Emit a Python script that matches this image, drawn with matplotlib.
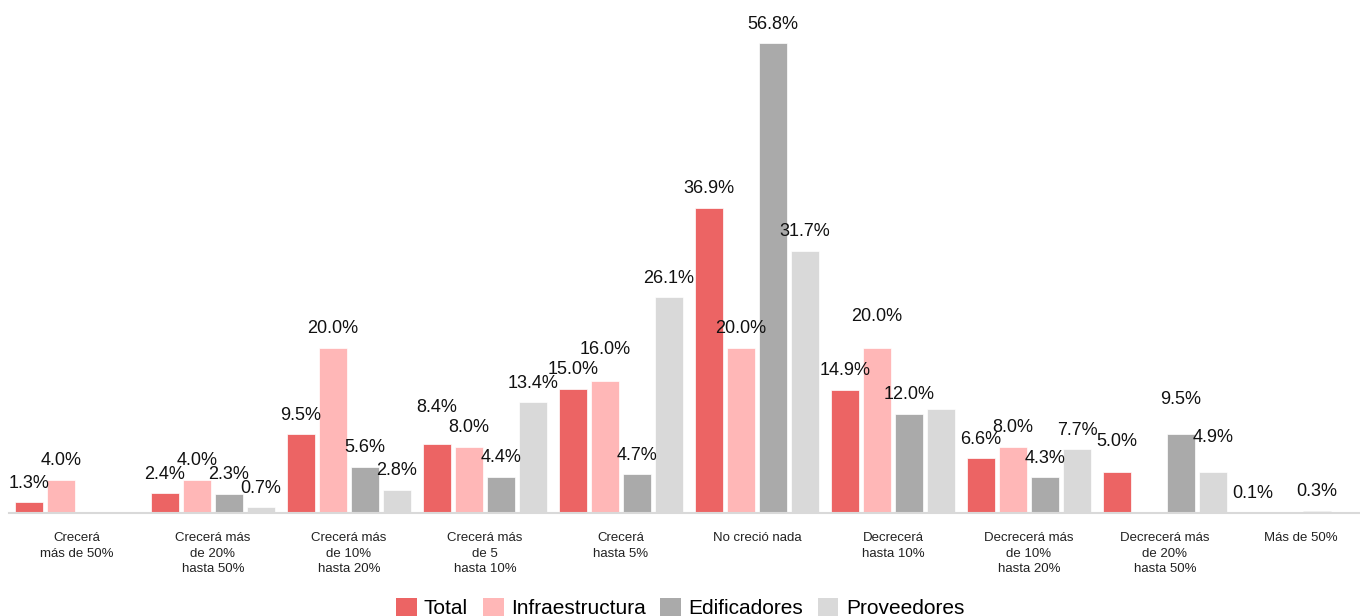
import numpy as np
import matplotlib
matplotlib.use("Agg")
import matplotlib.pyplot as plt
from matplotlib.patches import Patch

plt.rcParams['font.family'] = ['Liberation Sans', 'DejaVu Sans']

categories = ["Crecerá\nmás de 50%", "Crecerá más\nde 20%\nhasta 50%",
              "Crecerá más\nde 10%\nhasta 20%", "Crecerá más\nde 5\nhasta 10%",
              "Crecerá\nhasta 5%", "No creció nada", "Decrecerá\nhasta 10%",
              "Decrecerá más\nde 10%\nhasta 20%", "Decrecerá más\nde 20%\nhasta 50%",
              "Más de 50%"]
series = ["Total", "Infraestructura", "Edificadores", "Proveedores"]
total = [1.3, 2.4, 9.5, 8.4, 15.0, 36.9, 14.9, 6.6, 5.0, 0.1]
infraestructura = [4.0, 4.0, 20.0, 8.0, 16.0, 20.0, 20.0, 8.0, 0.0, 0.0]
edificadores = [0.0, 2.3, 5.6, 4.4, 4.7, 56.8, 12.0, 4.3, 9.5, 0.3]
proveedores = [0.0, 0.7, 2.8, 13.4, 26.1, 31.7, 12.6, 7.7, 4.9, 0.0]
# labels hidden in the original chart (zero values or overlap)
hidden = {(3, 6)}
# labels nudged higher in the original to avoid collisions
raised = {(1, 4): 12, (1, 6): 12, (0, 3): 17, (0, 8): 11, (2, 8): 16, (3, 8): 16}
colors = ["#ec6464", "#ffb7b7", "#aaaaaa", "#d9d9d9"]

data = [total, infraestructura, edificadores, proveedores]

fig = plt.figure(figsize=(13.6, 6.16), dpi=100)
ax = fig.add_axes([9 / 1360, 103 / 616, 1351 / 1360, 496 / 616])

x = np.arange(len(categories))
step = 0.235
width = 0.206
for s, vals in enumerate(data):
    pos = x + (s - 1.5) * step
    ax.bar(pos, vals, width=width, color=colors[s], edgecolor="white", linewidth=0.5)
    for i, v in enumerate(vals):
        if v == 0 or (s, i) in hidden:
            continue
        ax.annotate(f"{v:.1f}%", (pos[i], v), xytext=(0, 19 + raised.get((s, i), 0)),
                    textcoords="offset pixels", ha="center", va="center",
                    fontsize=13, color="#111111")

ax.set_xlim(-0.5, 9.5 - 9 / 136)
ax.set_ylim(0, 60)
ax.set_yticks([])
ax.set_xticks(x)
ax.set_xticklabels(categories, fontsize=9.5, linespacing=1.35, color="#222222")
ax.tick_params(axis="x", length=0, pad=14)
for sp in ["top", "right", "left"]:
    ax.spines[sp].set_visible(False)
ax.spines["bottom"].set_color("#d9d9d9")
ax.spines["bottom"].set_linewidth(1.5)

handles = [Patch(facecolor=c, edgecolor="none") for c in colors]
fig.legend(handles, series, loc="center", bbox_to_anchor=(0.5, 8 / 616),
           ncol=4, frameon=False, fontsize=15, handlelength=1.0, handleheight=1.0,
           handletextpad=0.35, columnspacing=0.7, borderaxespad=0)

fig.savefig("out.png", dpi=100)
